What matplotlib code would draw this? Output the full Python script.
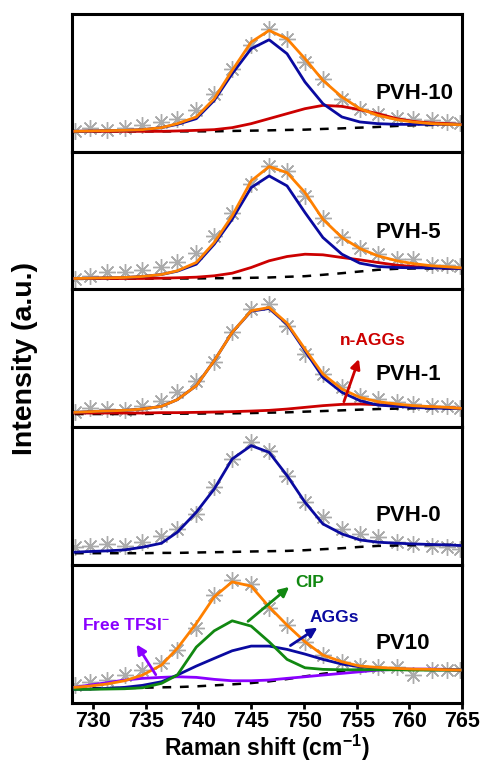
import numpy as np
import matplotlib.pyplot as plt

plt.rcParams['font.family'] = ['Liberation Sans', 'DejaVu Sans']
plt.rcParams['font.weight'] = 'bold'
plt.rcParams['mathtext.fontset'] = 'custom'
plt.rcParams['mathtext.rm'] = 'Liberation Sans:bold'
plt.rcParams['mathtext.bf'] = 'Liberation Sans:bold'
plt.rcParams['mathtext.default'] = 'bf'

# ---- data (a.u.) ----
raman_x = [728.3, 729.7, 731.3, 733.0, 734.7, 736.5, 738.0, 739.8, 741.5, 743.2, 745.0, 746.7,
           748.4, 750.1, 751.8, 753.6, 755.3, 757.0, 758.8, 760.3, 762.1, 763.6, 764.8]

# PVH-10
pvh10_raw = [20.3, 24, 21.3, 24, 26.3, 29.7, 33, 41.3, 57.3, 83, 106.3, 123, 113, 89.7, 73, 53, 43, 38, 33.7, 33, 31.3, 29.7, 28.7]
pvh10_fit = [20.3, 20.7, 21, 21.3, 22, 24, 28, 34.7, 53, 81.3, 109.7, 121.3, 113, 93, 71.3, 54.7, 43, 36.3, 32, 29.7, 28, 27.3, 27]
pvh10_agg = [20.3, 20.7, 21, 21.3, 22, 24, 27.3, 33, 51.3, 78, 103, 112, 98, 69.7, 48, 34.7, 29.7, 28, 27.3, 27.3, 27.3, 27.3, 27.3]
pvh10_nagg = [20.3, 20.3, 20.3, 20.3, 20.3, 20.3, 20.7, 21.3, 22, 24, 28, 33, 38, 43, 46.3, 45.3, 42, 38, 33, 30.3, 28.7, 28, 27.3]
pvh10_base = [20.3, 20.3, 20.3, 20.3, 20.3, 20.3, 20.3, 20.3, 20.3, 20.7, 21, 21.3, 21.7, 22, 22.7, 23.3, 24, 24.7, 25.7, 26.3, 26.7, 27.3, 27.3]

# PVH-5
pvh5_raw = [10.3, 13.7, 17, 17, 19.3, 23, 28, 37, 53.7, 76.3, 105.3, 123.7, 118.7, 93.7, 72, 53, 42, 35.3, 30.3, 31, 24.3, 24.3, 23.7]
pvh5_fit = [11, 11.3, 11.7, 12, 13, 15, 18.7, 27, 47, 73.7, 108.7, 123, 117, 97, 70.3, 52, 41, 33.7, 28.7, 26, 23.7, 22.7, 21.7]
pvh5_agg = [11, 11.3, 11.7, 12, 13, 15, 18.3, 25.3, 45.3, 70.3, 102, 113.7, 103.7, 77, 52, 35.3, 26.3, 23, 22, 21.7, 21.7, 21.3, 21]
pvh5_nagg = [11, 11, 11, 11, 11, 11.3, 11.7, 12.3, 13.7, 16.3, 22, 28.7, 33, 35.3, 34.7, 32, 29.7, 27, 24.3, 23, 22, 21.3, 21]
pvh5_base = [11, 11, 11, 11, 11, 11, 11, 11, 11.3, 11.3, 11.7, 12, 12.7, 13.3, 14.7, 16.3, 18, 19.7, 20.7, 21, 21, 21, 21]

# PVH-1
pvh1_raw = [15.7, 19, 18.3, 17.7, 21.7, 26.7, 35, 46.7, 65, 95, 118.3, 123.3, 101.7, 73.3, 53.3, 40, 31.7, 28.3, 25.7, 23.3, 21, 21, 19]
pvh1_fit = [15, 15.7, 16.3, 17, 18.3, 21, 27.7, 41.7, 66.7, 95, 116.7, 120, 104.3, 78.3, 53.3, 38.3, 30, 25.7, 23.3, 21.7, 20.7, 20, 19]
pvh1_agg = [15, 15.7, 16.3, 17, 18.3, 21, 27.7, 41.7, 66.7, 95, 116.3, 119, 103.3, 76.7, 50, 35, 26.7, 22.3, 21, 20, 19.3, 19, 19]
pvh1_nagg = [14.3, 14.3, 14.3, 14.3, 14.3, 14.7, 14.7, 15, 15.3, 15.7, 16.3, 17, 18.3, 20, 21.7, 23, 23.3, 22.7, 21.7, 21, 20.3, 19.7, 19]
pvh1_base = [13.3, 13.3, 13.3, 13.3, 13.3, 13.7, 13.7, 13.7, 14, 14, 14.3, 14.7, 15, 15.7, 16.3, 17, 17.7, 18.3, 18.7, 19, 19, 19, 19]

# PVH-0
pvh0_raw = [18, 19.7, 21.3, 19.7, 23, 29.7, 36.3, 51.3, 78, 106.3, 123, 114.7, 89.7, 63, 48, 36.3, 31.3, 28, 23, 21.3, 19.7, 18, 16.3]
pvh0_fit = [13, 13.7, 14.3, 15.3, 18, 22, 33, 53, 76.3, 106.3, 119.7, 113, 89.7, 63, 41.3, 31.3, 25.3, 23, 22, 21.3, 20.7, 20.3, 19.7]
pvh0_base = [12, 12, 12, 12, 12, 12.3, 12.3, 12.7, 13, 13.3, 13.7, 14, 14.3, 15, 16, 17, 18.3, 19.3, 19.7, 20, 20.3, 20.3, 20.3]

# PV10
pv10_raw = [18, 21.3, 23, 28, 33, 39.7, 53, 74.7, 108, 123, 119, 94.7, 78, 61.3, 48, 41.3, 37, 36.3, 35.7, 28, 33, 33, 33]
pv10_fit = [15.7, 17, 19, 22.3, 28, 38, 54.7, 79.7, 106.3, 121.3, 117, 96.3, 78, 61.3, 48, 41.3, 37, 35.7, 34.7, 34, 33.7, 33.3, 33]
pv10_cip = [13.7, 13.7, 14, 14.3, 15.3, 19.7, 28, 56, 72.3, 82.3, 77, 61.3, 43.7, 35.3, 33.7, 33.3, 33.3, 33.3, 33.3, 33, 33, 33, 33]
pv10_agg = [13.7, 14, 14.7, 15.7, 17.7, 21.3, 28, 37, 44.7, 52.3, 57, 57, 53.7, 49, 43.7, 39, 36.3, 34.7, 34, 33.7, 33.3, 33.3, 33]
pv10_free = [15.7, 18, 20.3, 23, 24.7, 25.7, 26.3, 25.7, 23.7, 22.3, 22.3, 23, 24.7, 26.3, 28, 29.7, 31.3, 33, 33.7, 34, 34, 33.7, 33]
pv10_base = [14.7, 14.7, 15, 15, 15.3, 15.7, 16, 16.7, 17.7, 18.7, 20, 21.7, 24, 26.7, 29.3, 31.7, 33.3, 33.7, 33.7, 33.7, 33.7, 33.3, 33]

sample_names = ['PVH-10', 'PVH-5', 'PVH-1', 'PVH-0', 'PV10']
label_y = [58, 57, 53, 50, 60]

ORANGE = '#FF8000'
NAVY = '#0A0AA0'
RED = '#CC0000'
GREEN = '#118811'
VIOLET = '#8A00FF'
STAR = '#ABABAB'

fig, axes = plt.subplots(5, 1, figsize=(4.85, 7.65), dpi=100, sharex=True)
fig.subplots_adjust(left=0.148, right=0.953, top=0.982, bottom=0.081, hspace=0)

panels = [
    (pvh10_raw, pvh10_base, [(pvh10_nagg, RED), (pvh10_agg, NAVY), (pvh10_fit, ORANGE)]),
    (pvh5_raw, pvh5_base, [(pvh5_nagg, RED), (pvh5_agg, NAVY), (pvh5_fit, ORANGE)]),
    (pvh1_raw, pvh1_base, [(pvh1_nagg, RED), (pvh1_agg, NAVY), (pvh1_fit, ORANGE)]),
    (pvh0_raw, pvh0_base, [(pvh0_fit, NAVY)]),
    (pv10_raw, pv10_base, [(pv10_free, VIOLET), (pv10_agg, NAVY), (pv10_cip, GREEN), (pv10_fit, ORANGE)]),
]

for ax, (raw, base, curves), name, ly in zip(axes, panels, sample_names, label_y):
    ax.plot(raman_x, raw, ls='none', marker=(8, 2, 0), ms=12, mew=1.0, color=STAR, zorder=1)
    ax.plot(raman_x, base, ls=(0, (3.5, 3.5)), color='black', lw=1.8, zorder=2)
    for ys, c in curves:
        ax.plot(raman_x, ys, color=c, lw=2.0, zorder=3)
    ax.text(756.8, ly, name, fontsize=16, fontweight='bold', va='center', ha='left')
    ax.set_xlim(728, 765)
    ax.set_ylim(0, 138)
    ax.set_yticks([])
    for s in ax.spines.values():
        s.set_linewidth(2.2)
    ax.tick_params(axis='x', which='both', bottom=False, labelbottom=False)

# annotations
axes[2].annotate('', xy=(755.3, 71), xytext=(753.7, 23),
                 arrowprops=dict(arrowstyle='-|>', color=RED, lw=2, mutation_scale=14))
axes[2].text(756.5, 87, 'n-AGGs', color=RED, fontsize=12.5, fontweight='bold', ha='center', va='center')

ax5 = axes[4]
ax5.annotate('', xy=(748.8, 118), xytext=(744.5, 80),
             arrowprops=dict(arrowstyle='-|>', color=GREEN, lw=2, mutation_scale=14))
ax5.text(750.5, 121, 'CIP', color=GREEN, fontsize=12.5, fontweight='bold', ha='center', va='center')
ax5.annotate('', xy=(751.5, 77), xytext=(748.5, 56),
             arrowprops=dict(arrowstyle='-|>', color=NAVY, lw=2, mutation_scale=14))
ax5.text(752.9, 86, 'AGGs', color=NAVY, fontsize=12.5, fontweight='bold', ha='center', va='center')
ax5.annotate('', xy=(734.0, 61), xytext=(736.1, 26),
             arrowprops=dict(arrowstyle='-|>', color=VIOLET, lw=2, mutation_scale=14))
ax5.text(733.1, 78, r'Free TFSI$^{-}$', color=VIOLET, fontsize=12.5, fontweight='bold', ha='center', va='center')

ax5.set_xticks(np.arange(730, 766, 5))
ax5.tick_params(axis='x', which='both', bottom=True, labelbottom=True, direction='out',
                length=4, width=2, labelsize=15.5, pad=2)
for lab in ax5.get_xticklabels():
    lab.set_fontweight('bold')
ax5.set_xlabel(r'Raman shift (cm$^{-1}$)', fontsize=16.5, fontweight='bold', labelpad=0)

fig.text(0.052, 0.531, 'Intensity (a.u.)', rotation=90, fontsize=20.5, fontweight='bold',
         ha='center', va='center')

fig.savefig('out.png', dpi=100)
